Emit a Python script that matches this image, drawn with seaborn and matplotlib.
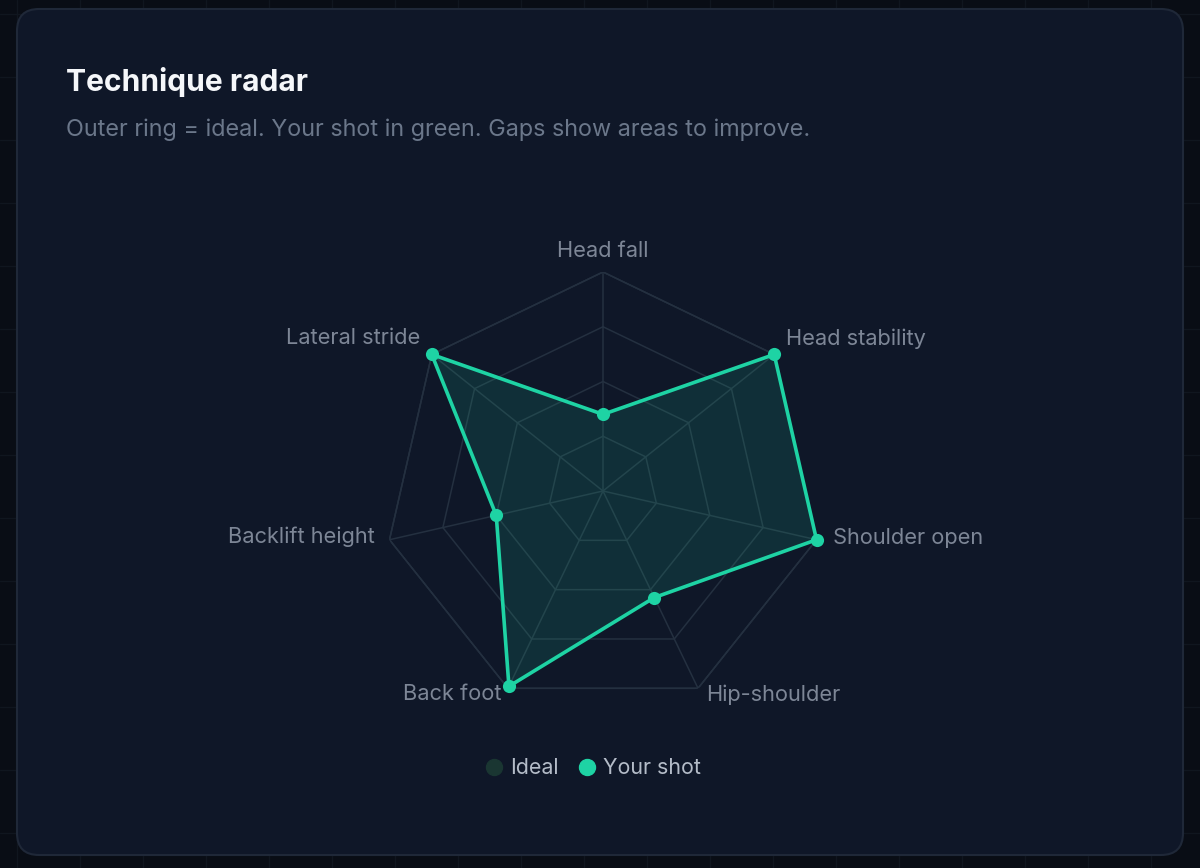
import numpy as np
import pandas as pd
import matplotlib
matplotlib.use("Agg")
import matplotlib.pyplot as plt
import seaborn as sns
from matplotlib.patches import FancyBboxPatch
from matplotlib.lines import Line2D

# ---- data ----
categories = ["Head fall", "Head stability", "Shoulder open", "Hip-shoulder",
              "Back foot", "Backlift height", "Lateral stride"]
ideal_values = [100, 100, 100, 100, 100, 100, 100]
your_values = [35, 100, 100, 54, 99, 50, 100]
ring_levels = [25, 50, 75, 100]
title_text = "Technique radar"
subtitle_text = "Outer ring = ideal. Your shot in green. Gaps show areas to improve."
legend_labels = ["Ideal", "Your shot"]

# ---- style ----
sns.set_theme(style="white")
plt.rcParams["font.family"] = ["Inter", "DejaVu Sans"]

OUT_BG = "#090d15"
CARD_BG = "#0f1728"
CARD_EDGE = "#1f2838"
GRID = "#243040"
GREEN = "#1ed3a4"
IDEAL_C = "#1a3632"
LABEL_C = "#7d8696"
SUB_C = "#6b778a"

W, H = 1200, 868
fig = plt.figure(figsize=(W / 100, H / 100), dpi=100)
fig.patch.set_facecolor(OUT_BG)

# faint background grid
for x in np.arange(17, W, 63):
    fig.add_artist(Line2D([x / W, x / W], [0, 1], color="#10161f", lw=1, zorder=0))
for y in np.arange(14, H, 63):
    fig.add_artist(Line2D([0, 1], [1 - y / H, 1 - y / H], color="#10161f", lw=1, zorder=0))

# card
card = FancyBboxPatch((17, H - 855), 1166, 846,
                      boxstyle="round,pad=0,rounding_size=22",
                      transform=None, facecolor=CARD_BG, edgecolor=CARD_EDGE,
                      lw=1.5, zorder=1)
fig.add_artist(card)

fig.text(66 / W, 1 - 82 / H, title_text, color="#f5f7fa", fontsize=21.6,
         fontweight="bold", ha="left", va="center")
fig.text(66 / W, 1 - 130 / H, subtitle_text, color=SUB_C, fontsize=16.85,
         ha="left", va="center")

# radar axes
cx, cy, R = 603, 491, 219
ax = fig.add_axes([(cx - R) / W, (H - cy - R) / H, 2 * R / W, 2 * R / H],
                  projection="polar")
ax.set_zorder(2)
ax.patch.set_alpha(0)
ax.set_theta_zero_location("N")
ax.set_theta_direction(-1)
ax.set_ylim(0, 1)
ax.grid(False)
ax.spines["polar"].set_visible(False)
ax.set_xticks([])
ax.set_yticks([])

n = len(categories)
angles = np.arange(n) * 2 * np.pi / n
closed = np.append(angles, angles[0])

for lvl in ring_levels:
    r = np.full(n + 1, lvl / 100)
    ax.plot(closed, r, color=GRID, lw=1.1, zorder=1)
for a in angles:
    ax.plot([a, a], [0, 1], color=GRID, lw=1.1, zorder=1)

# ideal (outer ring)
ideal_r = np.append(np.array(ideal_values) / 100, ideal_values[0] / 100)
ax.plot(closed, ideal_r, color=GRID, lw=1.1, zorder=1)

# your shot
df = pd.DataFrame({"theta": closed,
                   "r": np.append(np.array(your_values) / 100, your_values[0] / 100)})
ax.fill(df["theta"], df["r"], color=GREEN, alpha=0.13, lw=0, zorder=2)
sns.lineplot(data=df, x="theta", y="r", sort=False, ax=ax, color=GREEN,
             lw=2.6, zorder=3, estimator=None)
sns.scatterplot(data=df.iloc[:-1], x="theta", y="r", ax=ax, color=GREEN,
                s=90, edgecolor=GREEN, linewidth=0, zorder=4, clip_on=False)
ax.set_xlabel("")
ax.set_ylabel("")
ax.set_ylim(0, 1)

# axis labels
label_cfg = [
    ("center", 0, 21),
    ("left", 12, 16),
    ("left", 16, 2),
    ("left", 8, -6),
    ("right", -6, -6),
    ("right", -15, 3),
    ("right", -12, 16),
]
for a, lab, (ha, dx, dy) in zip(angles, categories, label_cfg):
    ax.annotate(lab, xy=(a, 1.0), xytext=(dx, dy), textcoords="offset pixels",
                ha=ha, va="center", color=LABEL_C, fontsize=15.7, annotation_clip=False)

# legend
handles = [Line2D([], [], marker="o", ls="", color=IDEAL_C, markersize=11.5),
           Line2D([], [], marker="o", ls="", color=GREEN, markersize=11.5)]
fig.legend(handles, legend_labels, loc="center", bbox_to_anchor=(592 / W, 1 - 768 / H),
           ncol=2, frameon=False, fontsize=15.4, labelcolor="#b4bcc8",
           handletextpad=0.25, columnspacing=0.8, handlelength=1.0)

fig.savefig("out.png", dpi=100, facecolor=OUT_BG)
